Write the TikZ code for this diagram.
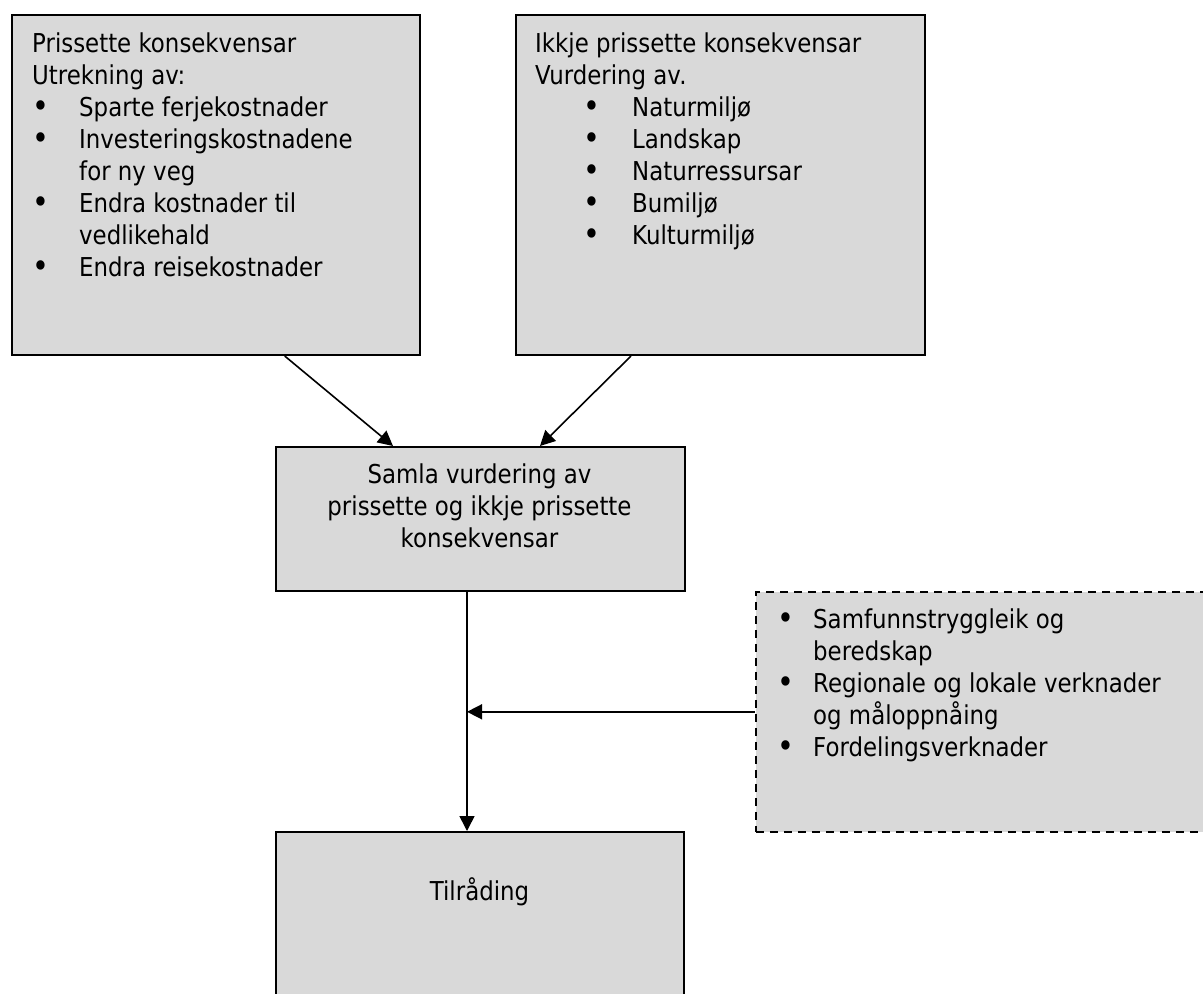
\documentclass[tikz,border=0pt]{standalone}
\usepackage{fontspec}
\setmainfont{DejaVu Sans}[FakeStretch=0.88]
\usetikzlibrary{arrows.meta}
\definecolor{boxgray}{HTML}{D9D9D9}
\tikzset{
  box/.style={draw=black, fill=boxgray, line width=2pt, rectangle, inner sep=0pt, anchor=north west},
  dbox/.style={box, dash pattern=on 8pt off 6pt, line width=1.6pt},
  txt/.style={inner sep=0pt, anchor=base west, align=left, font=\fontsize{26}{32}\selectfont},
  ctxt/.style={inner sep=0pt, anchor=base, align=center, font=\fontsize{26}{32}\selectfont},
  arr/.style={line width=1.6pt, -{Triangle[length=15pt,width=15pt]}},
}
\newcommand{\bul}[1]{\makebox[#1][l]{\hspace{0.5pt}\raisebox{-1.2pt}{\scalebox{1.25}{\textbullet}}}}
\begin{document}
\begin{tikzpicture}[x=1pt,y=-1pt]
\useasboundingbox (0,0) rectangle (1203,994);
% boxes
\node[box, minimum width=408pt, minimum height=340pt] (b1) at (10.7,14) {};
\node[box, minimum width=409pt, minimum height=340pt] (b2) at (515,14) {};
\node[box, minimum width=409pt, minimum height=144pt] (b3) at (275,446) {};
\node[dbox, minimum width=470pt, minimum height=240pt] (b4) at (755,591) {};
\node[box, minimum width=408pt, minimum height=200pt] (b5) at (275,831) {};
% texts (anchored at the baseline of their last line)
\node[txt] (t1) at (32,276.5) {Prissette konsekvensar\\Utrekning av:\\
\bul{47pt}Sparte ferjekostnader\\
\bul{47pt}Investeringskostnadene\\
\hspace*{47pt}for ny veg\\
\bul{47pt}Endra kostnader til\\
\hspace*{47pt}vedlikehald\\
\bul{47pt}Endra reisekostnader};
\node[txt] (t2) at (535,244.5) {Ikkje prissette konsekvensar\\Vurdering av.\\
\hspace*{48pt}\bul{49pt}Naturmiljø\\
\hspace*{48pt}\bul{49pt}Landskap\\
\hspace*{48pt}\bul{49pt}Naturressursar\\
\hspace*{48pt}\bul{49pt}Bumiljø\\
\hspace*{48pt}\bul{49pt}Kulturmiljø};
\node[ctxt] (t3) at (479.5,547) {Samla vurdering av\\prissette og ikkje prissette\\konsekvensar};
\node[txt] (t4) at (777,756) {\bul{36pt}Samfunnstryggleik og\\
\hspace*{36pt}beredskap\\
\bul{36pt}Regionale og lokale verknader\\
\hspace*{36pt}og måloppnåing\\
\bul{36pt}Fordelingsverknader};
\node[ctxt] (t5) at (479.5,900) {Tilråding};
% connectors
\draw[arr] ([xshift=274pt]b1.south west) -- ([xshift=118pt]b3.north west);
\draw[arr] ([xshift=116pt]b2.south west) -- ([xshift=265pt]b3.north west);
\coordinate (jx) at ([xshift=192pt]b3.south west);
\draw[arr] (jx) -- (jx |- b5.north);
\draw[arr] (b4.west) -- (b4.west -| jx);
\end{tikzpicture}
\end{document}
